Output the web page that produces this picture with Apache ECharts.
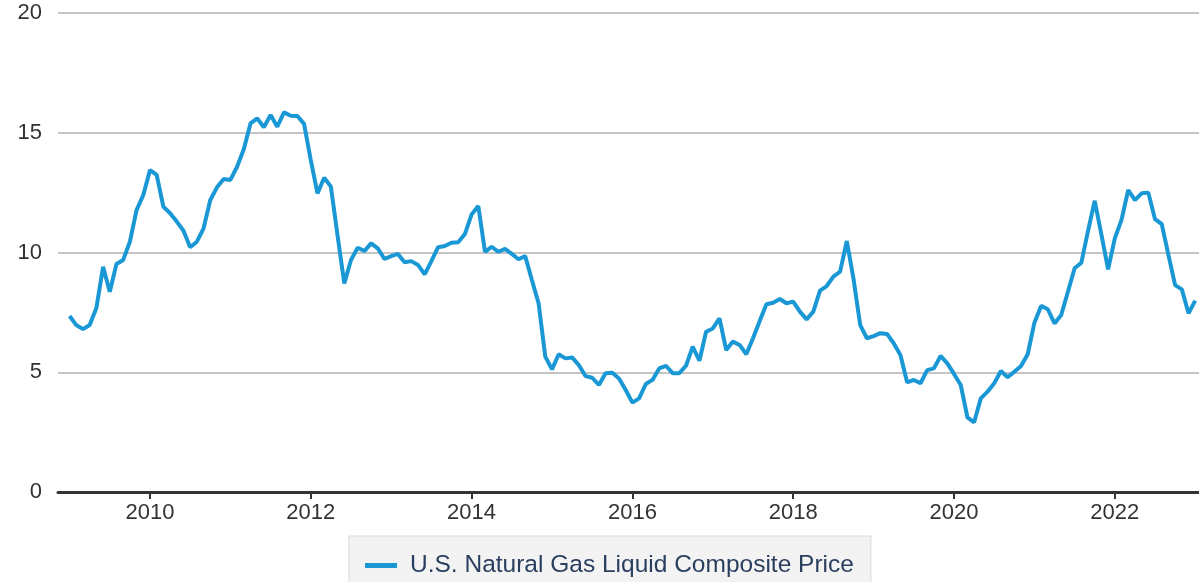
<!DOCTYPE html>
<html>
<head>
<meta charset="utf-8">
<title>U.S. Natural Gas Liquid Composite Price</title>
<script src="https://cdn.jsdelivr.net/npm/echarts@6/dist/echarts.min.js"></script>
<style>
  html, body { margin: 0; padding: 0; background: #fff; }
  #chart { width: 1199px; height: 582px; }
</style>
</head>
<body>
<div id="chart"></div>
<script>
// monthly values, first point = Jan 2009
var startYear = 2009;
var seriesName = 'U.S. Natural Gas Liquid Composite Price';
var price2009 = [7.35, 6.97, 6.80, 6.97, 7.68, 9.40, 8.36, 9.52, 9.69, 10.45, 11.77, 12.40];
var price2010 = [13.44, 13.24, 11.91, 11.64, 11.29, 10.91, 10.22, 10.45, 11.01, 12.19, 12.72, 13.07];
var price2011 = [13.03, 13.58, 14.31, 15.39, 15.60, 15.23, 15.74, 15.25, 15.85, 15.71, 15.70, 15.37];
var price2012 = [13.86, 12.47, 13.12, 12.75, 10.70, 8.71, 9.69, 10.20, 10.06, 10.38, 10.17, 9.73];
var price2013 = [9.85, 9.94, 9.59, 9.64, 9.48, 9.09, 9.64, 10.22, 10.27, 10.41, 10.43, 10.77];
var price2014 = [11.59, 11.94, 10.03, 10.24, 10.03, 10.15, 9.94, 9.72, 9.85, 8.85, 7.88, 5.65];
var price2015 = [5.12, 5.75, 5.58, 5.62, 5.30, 4.84, 4.77, 4.47, 4.96, 4.98, 4.74, 4.26];
var price2016 = [3.73, 3.91, 4.51, 4.68, 5.16, 5.27, 4.96, 4.96, 5.27, 6.07, 5.48, 6.69];
var price2017 = [6.83, 7.25, 5.93, 6.28, 6.14, 5.75, 6.42, 7.14, 7.84, 7.90, 8.06, 7.88];
var price2018 = [7.95, 7.53, 7.21, 7.53, 8.41, 8.60, 8.99, 9.20, 10.48, 8.90, 6.97, 6.42];
var price2019 = [6.51, 6.63, 6.60, 6.21, 5.72, 4.58, 4.68, 4.54, 5.09, 5.16, 5.68, 5.37];
var price2020 = [4.93, 4.47, 3.12, 2.91, 3.91, 4.19, 4.54, 5.05, 4.79, 5.02, 5.26, 5.75];
var price2021 = [7.07, 7.77, 7.63, 7.04, 7.39, 8.36, 9.34, 9.57, 10.90, 12.16, 10.75, 9.30];
var price2022 = [10.59, 11.36, 12.61, 12.19, 12.47, 12.50, 11.39, 11.19, 9.90, 8.64, 8.46, 7.46];
var price2023 = [7.99];
var tickYears = [2010, 2012, 2014, 2016, 2018, 2020, 2022];

var allPrices = [].concat(price2009, price2010, price2011, price2012, price2013, price2014,
    price2015, price2016, price2017, price2018, price2019, price2020, price2021, price2022, price2023);

// x as decimal year
var lineData = allPrices.map(function (v, i) {
    return [startYear + i / 12, v];
});

var chart = echarts.init(document.getElementById('chart'));
var font = 'Liberation Sans, Arial, Helvetica, sans-serif';

var option = {
    animation: false,
    backgroundColor: '#ffffff',
    grid: {
        left: 58,
        right: 0,
        top: 13,
        bottom: 90,
        containLabel: false
    },
    legend: {
        left: 349,
        top: 536,
        padding: [17, 17, 18, 16],
        backgroundColor: '#f3f3f3',
        borderColor: '#d9d9d9',
        borderWidth: 1,
        icon: 'rect',
        itemWidth: 32,
        itemHeight: 5,
        textStyle: {
            fontFamily: font,
            fontSize: 24.5,
            color: '#2a3f5f',
            padding: [0, 0, 0, 8]
        },
        data: [seriesName]
    },
    xAxis: {
        type: 'value',
        min: 2008.856,
        max: 2023.047,
        splitLine: { show: false },
        axisLine: { lineStyle: { color: '#333333', width: 3 } },
        axisTick: {
            show: true,
            length: 7,
            customValues: tickYears,
            lineStyle: { color: '#333333', width: 2 }
        },
        axisLabel: {
            customValues: tickYears,
            margin: 10,
            fontFamily: font,
            fontSize: 22,
            color: '#333333',
            formatter: function (v) { return String(Math.round(v)); }
        }
    },
    yAxis: {
        type: 'value',
        min: 0,
        max: 20,
        interval: 5,
        axisLine: { show: false },
        axisTick: { show: false },
        splitLine: { lineStyle: { color: '#c4c4c4', width: 2 } },
        axisLabel: {
            margin: 16,
            fontFamily: font,
            fontSize: 22,
            color: '#333333'
        }
    },
    series: [
        {
            name: seriesName,
            type: 'line',
            data: lineData,
            showSymbol: false,
            symbol: 'none',
            color: '#1a98d6',
            lineStyle: { width: 4, color: '#1a98d6' }
        }
    ]
};

chart.setOption(option);
</script>
</body>
</html>
